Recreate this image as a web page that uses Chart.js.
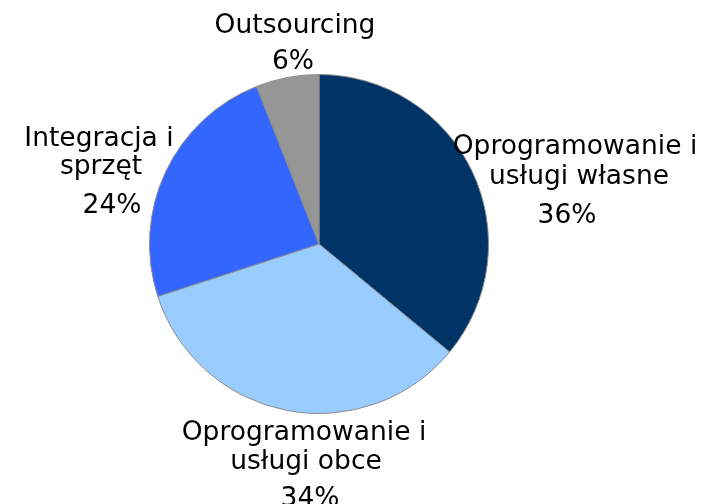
<!DOCTYPE html>
<html>
<head>
<meta charset="utf-8">
<script src="https://cdn.jsdelivr.net/npm/chart.js@4"></script>
<style>
  html, body { margin: 0; padding: 0; background: #fff; }
  #wrap { width: 702px; height: 504px; }
</style>
</head>
<body>
<div id="wrap"><canvas id="wykres" width="702" height="504"></canvas></div>
<script>
const kategorie = [
  ["Oprogramowanie i", "usługi własne"],
  ["Oprogramowanie i", "usługi obce"],
  ["Integracja i", "sprzęt"],
  ["Outsourcing"]
];
const udzialy = [36, 34, 24, 6];
const kolory = ["#003366", "#99CCFF", "#3366FF", "#969696"];

// przesunięcia etykiet względem środka koła (linie tekstu, potem procent)
const etykietyPoz = [
  { lines: [[256, -90], [260, -60]], pct: [248, -21] },
  { lines: [[-15, 196], [-13, 225]], pct: [-9, 262] },
  { lines: [[-220, -98], [-218, -70]], pct: [-207, -31] },
  { lines: [[-24, -211]], pct: [-26, -175] }
];

const etykiety = {
  id: "etykiety",
  afterDatasetsDraw(chart) {
    const ctx = chart.ctx;
    const arc = chart.getDatasetMeta(0).data[0];
    const cx = arc.x, cy = arc.y;
    function napis(t, x, y) {
      ctx.save();
      ctx.translate(x, y);
      ctx.scale(1.02, 1);
      ctx.fillText(t, 0, 0);
      ctx.restore();
    }
    ctx.save();
    ctx.fillStyle = "#000";
    ctx.font = "26px 'DejaVu Sans', Verdana, sans-serif";
    ctx.textAlign = "center";
    ctx.textBaseline = "alphabetic";
    kategorie.forEach(function (linie, i) {
      const p = etykietyPoz[i];
      linie.forEach(function (t, j) {
        napis(t, cx + p.lines[j][0], cy + p.lines[j][1]);
      });
      napis(udzialy[i] + "%", cx + p.pct[0], cy + p.pct[1]);
    });
    ctx.restore();
  }
};

new Chart(document.getElementById("wykres").getContext("2d"), {
  type: "pie",
  data: {
    labels: kategorie.map(function (k) { return k.join(" "); }),
    datasets: [{
      data: udzialy,
      backgroundColor: kolory,
      borderColor: "#8c8c8c",
      borderWidth: 1
    }]
  },
  options: {
    responsive: false,
    animation: false,
    layout: { padding: { left: 149, right: 213, top: 74, bottom: 90 } },
    plugins: { legend: { display: false }, tooltip: { enabled: false } }
  },
  plugins: [etykiety]
});
</script>
</body>
</html>
